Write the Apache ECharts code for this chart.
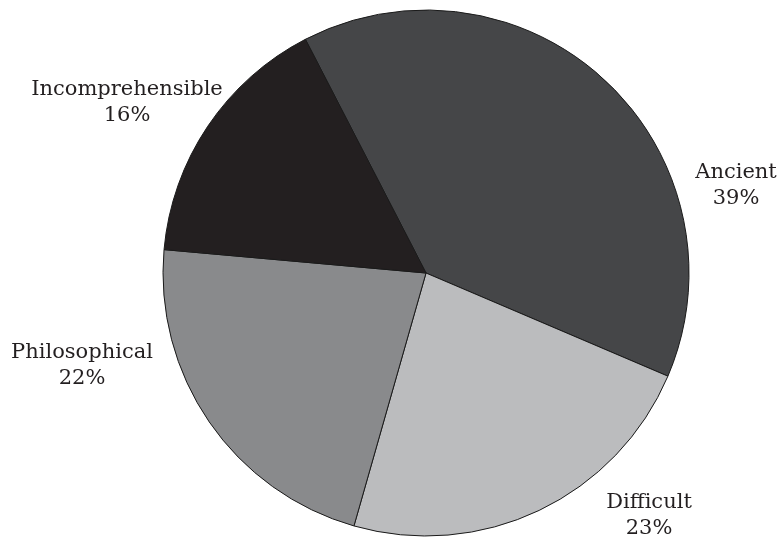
<!DOCTYPE html>
<html>
<head>
<meta charset="utf-8">
<style>
  html, body { margin: 0; padding: 0; background: #ffffff; }
  #chart { width: 780px; height: 537px; }
</style>
<script src="https://cdn.jsdelivr.net/npm/echarts@6/dist/echarts.min.js"></script>
</head>
<body>
<div id="chart"></div>
<script>
// Slice names and their shares (percent)
const categories = ['Ancient', 'Difficult', 'Philosophical', 'Incomprehensible'];
const shares = [39, 23, 22, 16];

// Fill for each slice, in the same order
const sliceColors = ['#454648', '#bbbcbe', '#898a8c', '#231f20'];

// Where each two-line label is centred (px)
const labelSpots = [[736, 186], [649, 516], [82, 366], [127, 103]];

const chart = echarts.init(document.getElementById('chart'), null, { renderer: 'canvas' });

chart.setOption({
  animation: false,
  backgroundColor: '#ffffff',
  series: [{
    type: 'pie',
    center: [426, 273],
    radius: 263,
    startAngle: 117.3,
    clockwise: true,
    avoidLabelOverlap: false,
    silent: true,
    data: categories.map((name, i) => ({
      name: name,
      value: shares[i],
      itemStyle: { color: sliceColors[i] }
    })),
    itemStyle: { borderColor: '#1a1a1a', borderWidth: 1 },
    label: {
      show: true,
      position: 'outside',
      formatter: '{b}\n{d}%',
      fontFamily: '"DejaVu Serif", serif',
      fontSize: 21,
      lineHeight: 26,
      color: '#231f20'
    },
    labelLine: { show: false },
    labelLayout: function (params) {
      const p = labelSpots[params.dataIndex];
      return { x: p[0], y: p[1], align: 'center', verticalAlign: 'middle' };
    },
    emphasis: { disabled: true }
  }]
});
</script>
</body>
</html>
